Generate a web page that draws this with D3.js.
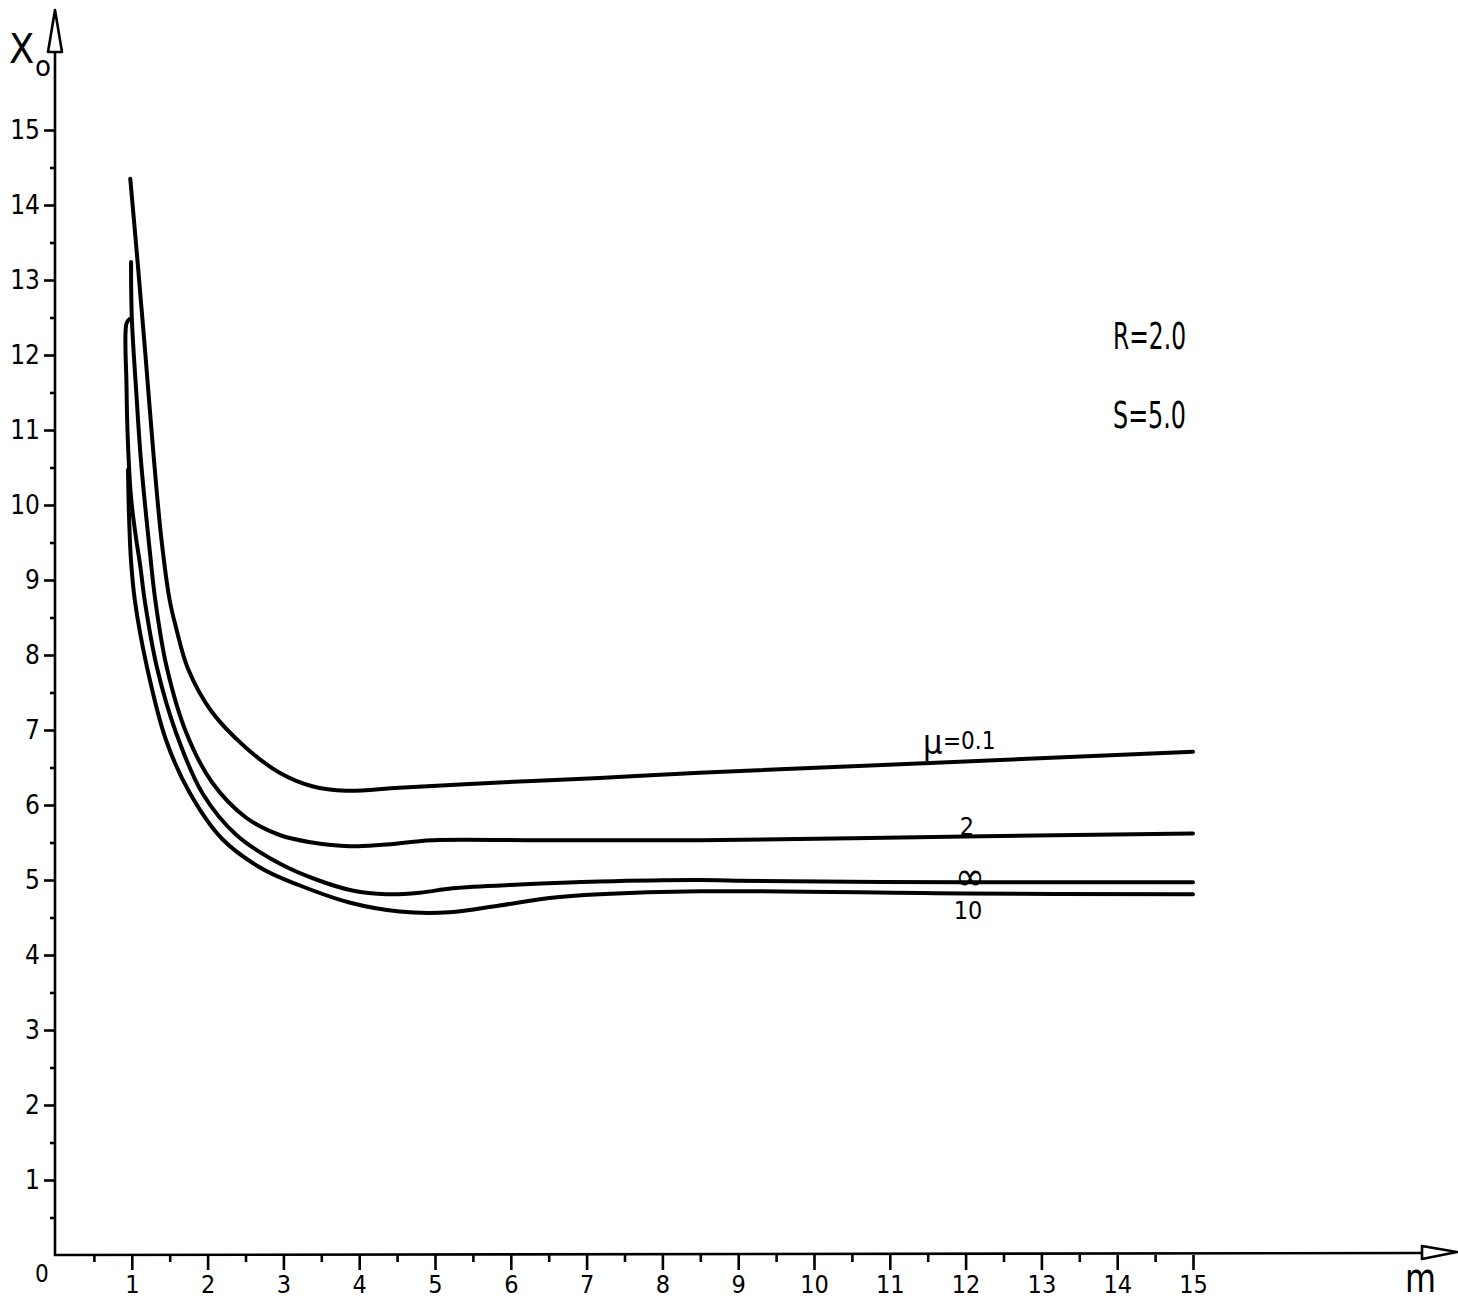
<!DOCTYPE html>
<html>
<head>
<meta charset="utf-8">
<script src="https://cdn.jsdelivr.net/npm/d3@7"></script>
<style>
body { margin: 0; background: #fff; }
svg { display: block; }
text { font-family: "Liberation Sans Narrow", "DejaVu Sans Condensed", "DejaVu Sans", sans-serif; fill: #000; }
</style>
</head>
<body>
<script>
// curve data: m values and X0 values, one pair per mu
const mu01M = [0.98, 1.08, 1.18, 1.28, 1.39, 1.50, 1.585, 1.74, 2.05, 2.51, 2.95, 3.38, 3.83, 4.53, 5.85, 7.17, 8.49, 11.53, 15]
const mu01X = [14.35, 13.2, 12.0, 10.75, 9.55, 8.73, 8.36, 7.82, 7.25, 6.76, 6.43, 6.25, 6.19, 6.23, 6.30, 6.36, 6.43, 6.56, 6.71]

const mu2M = [0.99, 1.0, 1.06, 1.12, 1.24, 1.31, 1.46, 1.72, 2.06, 2.51, 2.95, 3.38, 3.87, 4.31, 4.97, 6.29, 8.49, 12, 15]
const mu2X = [13.24, 12.5, 11.49, 10.6, 9.36, 8.73, 7.84, 6.96, 6.3, 5.83, 5.6, 5.5, 5.45, 5.47, 5.53, 5.53, 5.53, 5.58, 5.62]

const muInfM = [0.97, 0.93, 0.93, 0.95, 0.99, 1.05, 1.11, 1.17, 1.33, 1.585, 1.93, 2.38, 2.95, 3.45, 3.91, 4.36, 4.80, 5.23, 6.12, 7.17, 8.49, 8.97, 12, 15]
const muInfX = [12.48, 12.42, 11.6, 10.8, 10.1, 9.6, 9.2, 8.73, 7.84, 6.96, 6.16, 5.6, 5.22, 5.0, 4.86, 4.81, 4.83, 4.89, 4.94, 4.98, 5.0, 4.99, 4.97, 4.97]

const mu10M = [0.95, 0.965, 0.99, 1.04, 1.20, 1.45, 1.76, 2.19, 2.72, 3.21, 3.87, 4.53, 5.19, 5.85, 6.51, 7.17, 8.49, 12, 15]
const mu10X = [10.47, 9.8, 9.25, 8.73, 7.84, 6.87, 6.17, 5.55, 5.15, 4.93, 4.70, 4.58, 4.57, 4.66, 4.76, 4.81, 4.85, 4.82, 4.81]

const majorTicks = d3.range(1, 16)
const minorTicks = d3.range(0.5, 15, 1)

const width = 1458, height = 1300
const svg = d3.select('body').append('svg').attr('width', width).attr('height', height)

const x = d3.scaleLinear([0, 15], [56, 1193])
const y = d3.scaleLinear([0, 15], [1255, 130])

/* AXES */
const yMajor = d3.axisLeft(y).tickValues(majorTicks).tickSize(11).tickPadding(4)
const yMinor = d3.axisLeft(y).tickValues(minorTicks).tickSize(5).tickFormat('')
const xMajor = d3.axisBottom(x).tickValues(majorTicks).tickSize(15).tickPadding(5)
const xMinor = d3.axisBottom(x).tickValues(minorTicks).tickSize(7).tickFormat('')

const yg = svg.append('g').attr('transform', 'translate(55,0)')
yg.append('g').call(yMinor)
yg.append('g').call(yMajor)
const xg = svg.append('g').attr('transform', 'translate(0,1255)')
xg.append('g').call(xMinor)
xg.append('g').call(xMajor)

svg.selectAll('.domain').remove()
svg.selectAll('.tick line').attr('stroke', '#000').attr('stroke-width', 2.6)
svg.selectAll('g[font-family]').attr('font-family', null)
yg.selectAll('.tick text').attr('font-size', 26)
xg.selectAll('.tick text').attr('font-size', 25)

// axis lines with open arrow heads
svg.append('line').attr('x1', 55).attr('y1', 1256).attr('x2', 55).attr('y2', 52)
  .attr('stroke', '#000').attr('stroke-width', 2.6)
svg.append('path').attr('d', 'M48,52 L62,52 L55,10 Z')
  .attr('fill', '#fff').attr('stroke', '#000').attr('stroke-width', 2.6).attr('stroke-linejoin', 'round')
svg.append('line').attr('x1', 54).attr('y1', 1255).attr('x2', 1422).attr('y2', 1253)
  .attr('stroke', '#000').attr('stroke-width', 2.6)
svg.append('path').attr('d', 'M1422,1246 L1422,1259 L1457,1252 Z')
  .attr('fill', '#fff').attr('stroke', '#000').attr('stroke-width', 2.6).attr('stroke-linejoin', 'round')

/* CURVES */
const line = d3.line().x(d => x(d[0])).y(d => y(d[1])).curve(d3.curveCatmullRom.alpha(0.5))
const series = [
  [mu01M, mu01X],
  [mu2M, mu2X],
  [muInfM, muInfX],
  [mu10M, mu10X]
]
svg.append('g').selectAll('path').data(series).enter().append('path')
  .attr('d', s => line(d3.zip(s[0], s[1])))
  .attr('fill', 'none').attr('stroke', '#000').attr('stroke-width', 4)
  .attr('stroke-linecap', 'round').attr('stroke-linejoin', 'round')

/* TEXT */
// axis titles
svg.append('text').attr('x', 9).attr('y', 63).attr('font-size', 41).text('X')
svg.append('text').attr('x', 35).attr('y', 76).attr('font-size', 29).text('o')
svg.append('text').attr('x', 1405).attr('y', 1292).attr('font-size', 40)
  .attr('textLength', 31).attr('lengthAdjust', 'spacingAndGlyphs').text('m')
svg.append('text').attr('x', 35).attr('y', 1282).attr('font-size', 24).text('0')

// parameters
svg.append('text').attr('x', 1113).attr('y', 349).attr('font-size', 38)
  .attr('textLength', 73).attr('lengthAdjust', 'spacingAndGlyphs').text('R=2.0')
svg.append('text').attr('x', 1113).attr('y', 428).attr('font-size', 38)
  .attr('textLength', 73).attr('lengthAdjust', 'spacingAndGlyphs').text('S=5.0')

// curve labels
svg.append('text').attr('x', 923).attr('y', 754).attr('font-size', 34).text('μ')
svg.append('text').attr('x', 943).attr('y', 749).attr('font-size', 24).text('=0.1')
svg.append('text').attr('x', 967).attr('y', 835).attr('font-size', 25).attr('text-anchor', 'middle').text('2')
svg.append('text').attr('x', 970).attr('y', 890).attr('font-size', 40).attr('text-anchor', 'middle').text('∞')
svg.append('text').attr('x', 968).attr('y', 919).attr('font-size', 25).attr('text-anchor', 'middle').text('10')
</script>
</body>
</html>
